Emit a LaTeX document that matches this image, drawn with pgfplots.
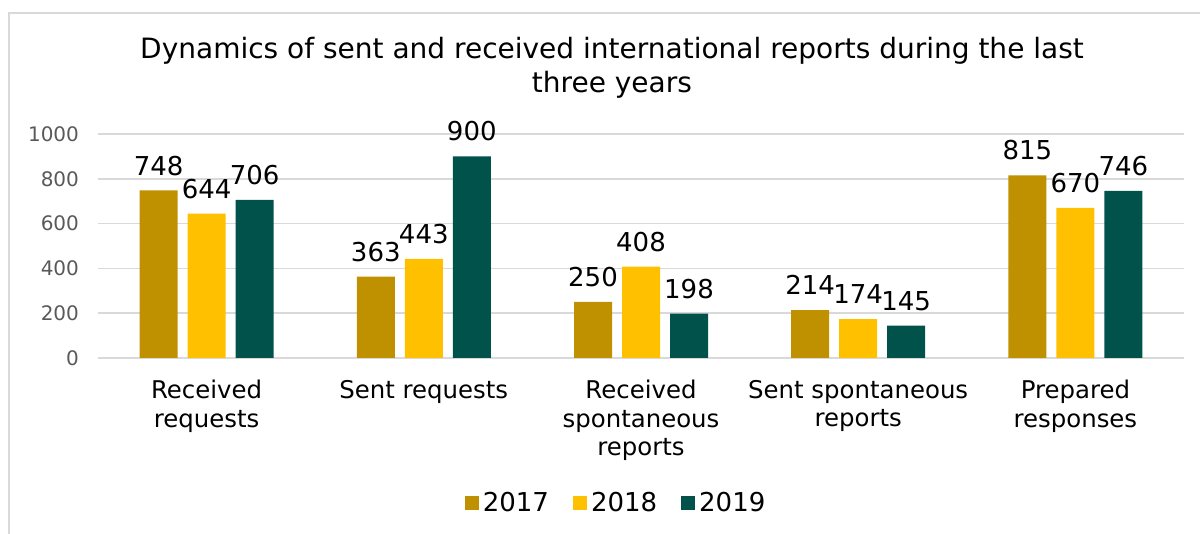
\documentclass[border=0pt]{standalone}
\usepackage{fontspec}
\setmainfont{DejaVu Sans}
\usepackage{pgfplots}
\pgfplotsset{compat=1.18}
\definecolor{c17}{HTML}{BF9000}
\definecolor{c18}{HTML}{FFC000}
\definecolor{c19}{HTML}{00524B}
\definecolor{gridc}{HTML}{D9D9D9}
\definecolor{tickc}{HTML}{595959}
\begin{document}
\begin{tikzpicture}[x=1pt,y=1pt]
\useasboundingbox (0,0) rectangle (600,267);
\draw[gridc, line width=0.8pt] (4.5,0) -- (4.5,260.5) -- (600,260.5);
\node[align=center, font=\fontsize{14}{17}\selectfont] at (306,233) {Dynamics of sent and received international reports during the last\\three years};
\begin{axis}[
  at={(49pt,88pt)}, anchor=south west,
  scale only axis, width=543pt, height=112pt,
  ybar=5pt, bar width=19pt,
  xmin=-0.5, xmax=4.5, ymin=0, ymax=1000,
  xtick={0,1,2,3,4},
  xticklabels={Received\\requests, Sent requests, Received\\spontaneous\\reports, Sent spontaneous\\reports, Prepared\\responses},
  xticklabel style={align=center, font=\fontsize{12.2}{14.2}\selectfont, text=black, yshift=-7.5pt},
  ytick={0,200,400,600,800,1000},
  yticklabel style={font=\fontsize{10}{12}\selectfont, text=tickc, xshift=-6pt},
  /pgf/number format/assume math mode=true,
  /pgf/number format/1000 sep={},
  major tick length=0pt,
  axis line style={draw=none},
  ymajorgrids, grid style={gridc, line width=0.8pt},
  nodes near coords,
  every node near coord/.append style={font=\fontsize{13}{16}\selectfont, text=black, yshift=4pt},
  legend columns=3,
  legend style={draw=none, at={(0.478,-0.647)}, anchor=center, font=\fontsize{13}{16}\selectfont, /tikz/every even column/.append style={column sep=10pt}},
  legend image code/.code={\fill[#1] (-0.5pt,-3.5pt) rectangle (6.5pt,3.5pt);},
  clip=false,
]
\addplot[fill=c17, draw=none] coordinates {(0,748) (1,363) (2,250) (3,214) (4,815)};
\addplot[fill=c18, draw=none] coordinates {(0,644) (1,443) (2,408) (3,174) (4,670)};
\addplot[fill=c19, draw=none] coordinates {(0,706) (1,900) (2,198) (3,145) (4,746)};
\legend{2017,2018,2019}
\end{axis}
\end{tikzpicture}
\end{document}
